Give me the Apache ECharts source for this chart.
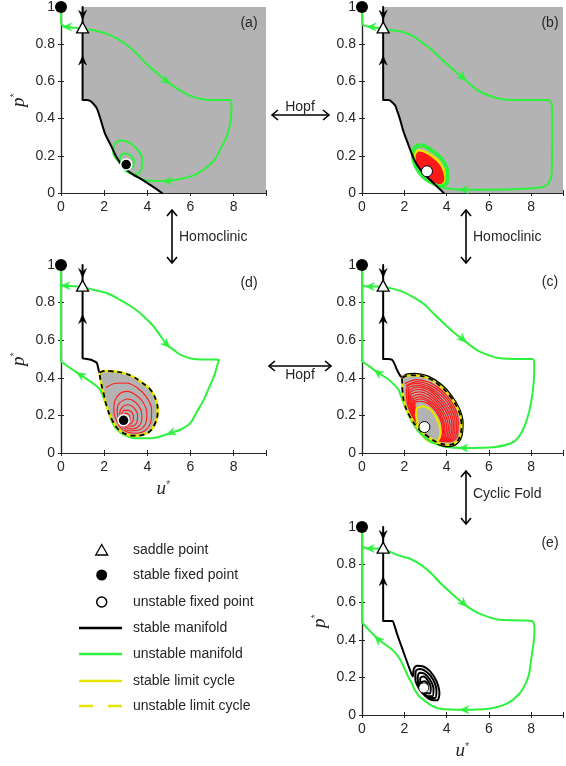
<!DOCTYPE html>
<html><head><meta charset="utf-8">
<script src="https://cdn.jsdelivr.net/npm/echarts@6/dist/echarts.min.js"></script>
<style>html,body{margin:0;padding:0;background:#fff}#c{width:566px;height:766px}</style>
</head><body><div id="c"></div>
<script>
// ---------------- DATA (u*, p*) ----------------
const xTickValues = [0, 2, 4, 6, 8];
const panelLabels = ['(a)', '(b)', '(d)', '(c)', '(e)'];
const transitionLabels = ['Hopf', 'Homoclinic', 'Homoclinic', 'Hopf', 'Cyclic Fold'];
const legendLabels = ['saddle point', 'stable fixed point', 'unstable fixed point', 'stable manifold', 'unstable manifold', 'stable limit cycle', 'unstable limit cycle'];

const stableFixedPt = [[0, 1]];
const saddlePt = [[1, 0.89]];
const blackArrows = [[1, 0.955, 0, -0.05], [1, 0.715, 0, 0.05]];

// (a)
const aStableManifold = [[1,1],[1,0.75],[1,0.5],[1.2,0.5],[1.35,0.495],[1.5,0.48],[1.66,0.455],[1.81,0.405],[2.05,0.316],[2.28,0.263],[2.59,0.19],[2.9,0.139],[3.29,0.103],[3.83,0.067],[4.29,0.032],[4.68,0]];
const aGreenLeft = [[1,0.885],[0.6,0.888],[0.2,0.895],[0.04,0.905],[0,0.93],[0,1]];
const aGreenRight = [[1,0.885],[1.5,0.875],[2.1,0.857],[2.6,0.83],[3.05,0.796],[3.5,0.75],[4.0,0.689],[4.5,0.64],[4.9,0.6],[5.4,0.56],[5.85,0.53],[6.5,0.505],[7.3,0.5],[7.85,0.5],[7.9,0.47],[7.85,0.38],[7.7,0.31],[7.4,0.24],[7.1,0.175],[6.6,0.125],[6.15,0.095],[5.5,0.075],[4.9,0.064],[4.3,0.064],[3.85,0.07],[3.4,0.095],[3.0,0.13],[2.7,0.165],[2.42,0.215],[2.48,0.262],[2.75,0.282],[3.15,0.272],[3.5,0.24],[3.75,0.19],[3.74,0.135],[3.5,0.1],[3.15,0.108],[2.82,0.14],[2.72,0.185],[2.9,0.212],[3.22,0.203],[3.38,0.17],[3.3,0.138],[3.1,0.135],[3.0,0.153]];
const aGreenArrows = [[0.26,0.893,-0.1,0],[4.9,0.6,0.45,-0.04],[4.9,0.064,-0.3,0]];
const aStableFocus = [[3.02,0.153]];

// (b)
const bStableManifold = [[1,1],[1,0.75],[1,0.5],[1.27,0.5],[1.45,0.485],[1.57,0.47],[1.65,0.445],[1.73,0.42],[1.85,0.375],[1.95,0.334],[2.18,0.263],[2.49,0.174],[2.79,0.121],[3.25,0.067],[3.55,0.035],[3.86,0]];
const bGreenLeft = [[1,0.885],[0.43,0.893],[0.1,0.9],[0.02,0.91],[0,0.94],[0,1]];
const bGreenRight = [[1,0.885],[1.4,0.875],[1.88,0.867],[2.4,0.845],[2.79,0.813],[3.3,0.77],[3.71,0.725],[4.25,0.67],[4.78,0.618],[5.15,0.58],[5.54,0.547],[6.3,0.512],[7.07,0.5],[8.0,0.5],[8.82,0.5],[8.97,0.47],[8.99,0.4],[8.99,0.316],[8.98,0.2],[8.97,0.12],[8.9,0.07],[8.7,0.04],[8.29,0.028],[7.07,0.02],[5.8,0.018],[4.78,0.018],[4.3,0.02],[4.02,0.025],[3.7,0.032],[3.3,0.05],[2.85,0.085],[2.5,0.14],[2.36,0.2],[2.47,0.248],[2.8,0.262],[3.3,0.235],[3.8,0.185],[4.08,0.115],[4.05,0.055],[3.75,0.033],[3.3,0.05],[2.88,0.09],[2.55,0.145],[2.42,0.2],[2.55,0.242],[2.85,0.25],[3.3,0.222],[3.75,0.178],[4.0,0.11],[3.97,0.06],[3.7,0.04],[3.3,0.055]];
const bStableCycle = [[2.62,0.228],[2.9,0.225],[3.3,0.2],[3.7,0.16],[3.93,0.1],[3.9,0.055],[3.6,0.04],[3.2,0.06],[2.8,0.095],[2.52,0.15],[2.48,0.2]];
const bGreenArrows = [[0.43,0.893,-0.1,0],[4.78,0.618,0.45,-0.045],[4.78,0.018,-0.3,0]];
const bUnstableFocus = [[3.07,0.117]];

// (d)
const dStableManifold = [[1,1],[1,0.75],[1,0.505],[1.2,0.5],[1.35,0.497],[1.5,0.49],[1.66,0.479],[1.74,0.443],[1.81,0.42]];
const dGreenLeft = [[1,0.885],[0.6,0.887],[0.19,0.89],[0.03,0.893],[0,0.9]];
const dGreenRight = [[1,0.885],[1.5,0.868],[2.12,0.851],[2.8,0.81],[3.36,0.771],[3.85,0.725],[4.29,0.674],[4.6,0.625],[4.91,0.576],[5.2,0.55],[5.53,0.523],[6.16,0.5],[7.0,0.497],[7.32,0.496],[7.2,0.45],[7.09,0.408],[6.85,0.345],[6.62,0.284],[6.3,0.22],[6.0,0.16],[5.55,0.125],[5.07,0.106],[4.6,0.088],[4.29,0.08],[3.8,0.078],[3.36,0.08],[2.9,0.0975],[2.6,0.125],[2.43,0.15],[2.25,0.2],[2.12,0.248],[1.95,0.3],[1.81,0.337],[1.6,0.36],[1.35,0.381],[0.88,0.417],[0.42,0.452],[0.15,0.475],[0,0.49],[0,0.75],[0,1]];
const dUnstableCycle = [[1.81,0.425],[1.95,0.435],[2.3,0.435],[2.9,0.425],[3.35,0.405],[3.67,0.381],[4.14,0.337],[4.42,0.275],[4.48,0.213],[4.37,0.16],[4.14,0.118],[3.8,0.097],[3.36,0.092],[3.05,0.098],[2.67,0.124],[2.36,0.177],[2.12,0.248],[1.97,0.319],[1.84,0.385]];
const dRedSpiral = [[2.1,0.35],[2.5,0.37],[3.0,0.372],[3.5,0.35],[3.95,0.3],[4.2,0.23],[4.15,0.16],[3.9,0.12],[3.5,0.105],[3.1,0.11],[2.8,0.13],[2.6,0.165],[2.45,0.22],[2.5,0.28],[2.75,0.318],[3.05,0.328],[3.45,0.31],[3.8,0.27],[3.98,0.21],[3.9,0.15],[3.6,0.122],[3.2,0.118],[2.9,0.135],[2.7,0.17],[2.6,0.22],[2.7,0.265],[3.1,0.287],[3.45,0.27],[3.7,0.23],[3.75,0.18],[3.6,0.142],[3.3,0.128],[3.0,0.138],[2.8,0.17],[2.72,0.21],[2.85,0.245],[3.1,0.257],[3.38,0.24],[3.55,0.2],[3.5,0.16],[3.3,0.143],[3.05,0.145],[2.85,0.17],[2.8,0.2],[2.95,0.228],[3.2,0.225],[3.36,0.195],[3.3,0.163],[3.1,0.152],[2.92,0.162],[2.86,0.19],[3.0,0.212],[3.18,0.2],[3.2,0.178],[3.05,0.165],[2.93,0.17],[2.9,0.174]];
const dGreenArrows = [[0.19,0.89,-0.1,0],[4.91,0.576,0.45,-0.05],[5.07,0.106,-0.45,-0.02],[0.88,0.417,-0.46,0.035]];
const dStableFocus = [[2.9,0.174]];

// (c)
const cStableManifold = [[1,1],[1,0.75],[1,0.5],[1.2,0.5],[1.42,0.496],[1.55,0.47],[1.65,0.443],[1.8,0.412],[1.9,0.404],[2.1,0.418],[2.5,0.422],[3.1,0.408],[3.75,0.363],[4.22,0.306],[4.6,0.233],[4.76,0.16],[4.69,0.085],[4.43,0.046],[4.02,0.036],[3.6,0.048]];
const cGreenLeft = [[1,0.885],[0.6,0.886],[0.35,0.885],[0.05,0.89],[0,0.9]];
const cGreenRight = [[1,0.885],[1.88,0.86],[2.4,0.83],[2.95,0.79],[3.4,0.74],[3.86,0.69],[4.3,0.645],[4.78,0.603],[5.15,0.57],[5.54,0.541],[6.46,0.505],[7.5,0.5],[8.06,0.5],[8.14,0.47],[8.13,0.4],[8.06,0.319],[7.9,0.22],[7.68,0.142],[7.4,0.085],[7.07,0.053],[6.3,0.032],[4.78,0.027],[3.86,0.035],[3.45,0.05],[3.1,0.071],[2.75,0.105],[2.49,0.142],[2.25,0.19],[2.03,0.248],[1.85,0.3],[1.73,0.337],[1.5,0.365],[1.27,0.39],[0.73,0.429],[0.35,0.461],[0.1,0.48],[0,0.491],[0,0.75],[0,1]];
const cUnstableCycle = [[1.91,0.399],[2.1,0.41],[2.49,0.413],[3.1,0.4],[3.71,0.355],[4.17,0.301],[4.55,0.23],[4.7,0.16],[4.63,0.089],[4.4,0.053],[4.02,0.044],[3.56,0.057],[3.1,0.089],[2.64,0.133],[2.26,0.195],[2.0,0.266],[1.91,0.337],[1.9,0.38]];
const cStableCycle = [[2.6,0.238],[2.87,0.248],[3.25,0.23],[3.56,0.177],[3.71,0.115],[3.6,0.068],[3.3,0.055],[2.97,0.078],[2.7,0.13],[2.56,0.195],[2.57,0.228]];
const cRedSpiral = [[2.05,0.37],[2.55,0.39],[3.2,0.375],[3.8,0.33],[4.3,0.26],[4.55,0.17],[4.5,0.09],[4.2,0.06],[3.8,0.06],[3.3,0.085],[2.8,0.13],[2.4,0.19],[2.15,0.26],[2.1,0.32],[2.15,0.355],[2.6,0.37],[3.2,0.35],[3.75,0.305],[4.2,0.24],[4.4,0.16],[4.33,0.09],[4.05,0.065],[3.7,0.068],[3.25,0.09],[2.8,0.135],[2.45,0.19],[2.25,0.26],[2.2,0.31],[2.25,0.335],[2.65,0.35],[3.2,0.33],[3.7,0.28],[4.08,0.22],[4.25,0.15],[4.17,0.09],[3.9,0.068],[3.6,0.07],[3.2,0.095],[2.8,0.14],[2.5,0.195],[2.33,0.26],[2.3,0.3],[2.35,0.315],[2.7,0.325],[3.2,0.305],[3.62,0.26],[3.95,0.2],[4.08,0.14],[4.0,0.09],[3.75,0.07],[3.45,0.075],[3.1,0.1],[2.78,0.145],[2.55,0.2],[2.42,0.26],[2.42,0.285],[2.45,0.29],[2.75,0.3],[3.15,0.28],[3.55,0.24],[3.83,0.18],[3.92,0.125],[3.82,0.085],[3.6,0.07],[3.35,0.078],[3.05,0.105],[2.75,0.15],[2.58,0.2],[2.5,0.25],[2.52,0.27],[2.8,0.275],[3.15,0.26],[3.5,0.22],[3.75,0.165],[3.8,0.11],[3.68,0.075],[3.45,0.066],[3.2,0.08],[2.95,0.11],[2.7,0.155],[2.57,0.2],[2.56,0.235]];
const cRedSpiralInner = [[2.1,0.36],[2.58,0.38],[3.2,0.362],[3.78,0.318],[4.25,0.25],[4.48,0.165],[4.42,0.09],[4.12,0.062],[3.75,0.064],[3.28,0.088],[2.8,0.133],[2.42,0.19],[2.2,0.26],[2.18,0.32],[2.2,0.345],[2.62,0.36],[3.2,0.34],[3.72,0.292],[4.14,0.23],[4.32,0.155],[4.25,0.09],[3.98,0.066],[3.65,0.069],[3.22,0.092],[2.8,0.138],[2.48,0.193],[2.29,0.26],[2.26,0.305],[2.3,0.325],[2.68,0.338],[3.2,0.318],[3.66,0.27],[4.02,0.21],[4.16,0.145],[4.08,0.09],[3.82,0.069],[3.52,0.072],[3.15,0.098],[2.79,0.143],[2.52,0.198],[2.38,0.26],[2.36,0.292],[2.4,0.302],[2.72,0.312],[3.18,0.292],[3.58,0.25],[3.89,0.19],[4.0,0.132],[3.91,0.087],[3.68,0.07],[3.4,0.076],[3.08,0.102],[2.77,0.148],[2.56,0.2],[2.46,0.255],[2.47,0.278],[2.5,0.28],[2.78,0.288],[3.15,0.27],[3.52,0.23],[3.79,0.172],[3.86,0.118],[3.75,0.08],[3.52,0.068],[3.28,0.079],[3.0,0.107],[2.72,0.152],[2.57,0.2],[2.54,0.24]];
const cGreenArrows = [[0.35,0.885,-0.1,0],[4.78,0.603,0.45,-0.045],[4.78,0.027,-0.3,0],[0.73,0.429,-0.46,0.036]];
const cUnstableFocus = [[2.95,0.138]];

// (e)
const eStableManifold = [[1,1],[1,0.75],[1,0.5],[1.2,0.5],[1.43,0.5],[1.55,0.47],[1.66,0.43],[1.85,0.37],[2.05,0.307],[2.28,0.236],[2.4,0.205],[2.45,0.245],[2.6,0.262],[2.9,0.258],[3.2,0.235],[3.5,0.185],[3.66,0.115],[3.55,0.078],[3.3,0.08],[3.0,0.1],[2.7,0.14],[2.52,0.19],[2.55,0.235],[2.75,0.245],[3.05,0.23],[3.35,0.19],[3.52,0.13],[3.45,0.09],[3.2,0.09],[2.95,0.11],[2.72,0.15],[2.63,0.195],[2.72,0.225],[2.95,0.22],[3.2,0.19],[3.38,0.14],[3.33,0.1],[3.12,0.1],[2.9,0.12],[2.76,0.16],[2.75,0.195],[2.9,0.205],[3.1,0.185],[3.25,0.145],[3.2,0.115],[3.0,0.12],[2.85,0.145],[2.84,0.175],[2.97,0.18],[3.1,0.16],[3.08,0.135],[2.95,0.14]];
const eGreenLeft = [[1,0.885],[0.6,0.886],[0.35,0.885],[0.05,0.893],[0,0.9]];
const eGreenRight = [[1,0.885],[1.74,0.849],[2.3,0.83],[2.82,0.796],[3.3,0.75],[3.74,0.698],[4.3,0.64],[4.82,0.591],[5.2,0.56],[5.58,0.538],[6.51,0.506],[7.74,0.503],[8.1,0.495],[8.15,0.45],[8.12,0.393],[8.0,0.3],[7.89,0.215],[7.7,0.16],[7.43,0.112],[6.82,0.059],[5.89,0.032],[4.82,0.028],[3.74,0.032],[3.3,0.05],[2.97,0.076],[2.7,0.1],[2.51,0.13],[2.35,0.17],[2.2,0.2],[2.0,0.25],[1.74,0.307],[1.5,0.34],[1.28,0.36],[0.74,0.405],[0.35,0.45],[0.1,0.48],[0,0.494],[0,0.75],[0,1]];
const eGreenArrows = [[0.35,0.885,-0.1,0],[4.82,0.591,0.45,-0.05],[4.82,0.028,-0.3,0],[0.74,0.405,-0.4,0.045]];
const eUnstableFocus = [[2.92,0.144]];

// ---------------- STYLE / LAYOUT ----------------
const GREEN = '#2cf23c', YELLOW = '#e6e600', RED = '#ff1a1a', GRAY = '#b3b3b3', INK = '#262626';
const FONT = 'Liberation Sans, Arial, sans-serif';
const XMAX = 9.5;
// grid order: a, b, d, c, e
const grids = [
  {left: 61, top: 5, width: 205, height: 188},
  {left: 362, top: 5, width: 205, height: 188},
  {left: 61, top: 265, width: 205, height: 188},
  {left: 362, top: 265, width: 205, height: 188},
  {left: 362, top: 527, width: 205, height: 188}
];
const showU = [false, false, true, false, true];
const showP = [true, false, true, false, true];

const nameRich = {
  i: {fontFamily: 'Liberation Serif, serif', fontStyle: 'italic', fontSize: 19, color: INK},
  s: {fontFamily: FONT, fontSize: 11, color: '#555', verticalAlign: 'top', lineHeight: 14}
};

const xAxes = [], yAxes = [];
grids.forEach((g, i) => {
  const tick = {show: true, inside: true, length: 3, lineStyle: {color: INK, width: 1}};
  const line = {show: true, lineStyle: {color: INK, width: 1.2}};
  xAxes.push({
    gridIndex: i, type: 'value', min: 0, max: XMAX, interval: 2, position: 'bottom',
    axisLine: line, axisTick: tick, splitLine: {show: false},
    axisLabel: {fontFamily: FONT, fontSize: 14, color: INK, margin: 7,
      formatter: v => (xTickValues.indexOf(v) >= 0 ? String(v) : '')},
    name: showU[i] ? '{i|u}{s|*}' : '', nameLocation: 'middle', nameGap: 26,
    nameTextStyle: {rich: nameRich}
  });
  xAxes.push({
    gridIndex: i, type: 'value', min: 0, max: XMAX, interval: 2, position: 'top',
    axisLine: line, axisTick: tick, splitLine: {show: false}, axisLabel: {show: false}
  });
  yAxes.push({
    gridIndex: i, type: 'value', min: 0, max: 1, interval: 0.2, position: 'left',
    axisLine: line, axisTick: tick, splitLine: {show: false},
    axisLabel: {fontFamily: FONT, fontSize: 14, color: INK, margin: 6},
    name: showP[i] ? '{i|p}{s|*}' : '', nameLocation: 'middle', nameRotate: 90, nameGap: 33,
    nameTextStyle: {rich: nameRich}
  });
  yAxes.push({
    gridIndex: i, type: 'value', min: 0, max: 1, interval: 0.2, position: 'right',
    axisLine: line, axisTick: tick, splitLine: {show: false}, axisLabel: {show: false}
  });
});

const series = [];
function line(gi, data, color, width, z, dash) {
  series.push({type: 'line', xAxisIndex: gi * 2, yAxisIndex: gi * 2, data: data, smooth: 0.3,
    symbol: 'none', showSymbol: false, clip: false, silent: true, z: z,
    lineStyle: {color: color, width: width, type: dash || 'solid', cap: 'round', join: 'round'}});
}
function closed(gi, pts, style, z, smooth) {
  series.push({type: 'custom', xAxisIndex: gi * 2, yAxisIndex: gi * 2, data: pts, encode: {x: 0, y: 1},
    clip: false, silent: true, z: z,
    renderItem: (params, api) => params.dataIndex !== 0 ? null : {
      type: 'polygon', shape: {points: pts.map(p => api.coord(p)), smooth: smooth},
      style: Object.assign({}, style)
    }});
}
function arrows(gi, arr, color) {
  series.push({type: 'custom', xAxisIndex: gi * 2, yAxisIndex: gi * 2, data: arr, encode: {x: 0, y: 1},
    clip: false, silent: true, z: 9,
    renderItem: (params, api) => {
      const a = api.coord([api.value(0), api.value(1)]);
      const b = api.coord([api.value(0) + api.value(2), api.value(1) + api.value(3)]);
      const ang = Math.atan2(b[1] - a[1], b[0] - a[0]);
      const c = Math.cos(ang), s = Math.sin(ang);
      const shape = [[4, 0], [-5, -4], [-2, 0], [-5, 4]];
      const pts = shape.map(([x, y]) => [a[0] + x * c - y * s, a[1] + x * s + y * c]);
      return {type: 'polygon', shape: {points: pts}, style: {fill: color, stroke: color, lineWidth: 0.5}};
    }});
}
function points(gi, pts, symbol, size, fill, stroke, sw) {
  series.push({type: 'scatter', xAxisIndex: gi * 2, yAxisIndex: gi * 2, data: pts, symbol: symbol,
    symbolSize: size, clip: false, silent: true, z: 12,
    itemStyle: {color: fill, borderColor: stroke, borderWidth: sw, opacity: 1}});
}
function common(gi, man, gl, gr, ga) {
  line(gi, man, '#000', 2, 6);
  line(gi, gl, GREEN, 2, 5);
  line(gi, gr, GREEN, 2, 5);
  arrows(gi, blackArrows, '#000');
  arrows(gi, ga, GREEN);
  points(gi, stableFixedPt, 'circle', 12, '#000', '#000', 0);
  points(gi, saddlePt, 'triangle', [12, 11], '#fff', '#000', 1.3);
}

// (a) grid 0
closed(0, aStableManifold.concat([[XMAX, 0], [XMAX, 1]]), {fill: GRAY}, 1, 0);
common(0, aStableManifold, aGreenLeft, aGreenRight, aGreenArrows);
points(0, aStableFocus, 'circle', 11, '#000', '#fff', 1.5);

// (b) grid 1
closed(1, bStableManifold.concat([[XMAX, 0], [XMAX, 1]]), {fill: GRAY}, 1, 0);
closed(1, bStableCycle, {fill: RED, stroke: YELLOW, lineWidth: 2.5}, 4, 0.4);
common(1, bStableManifold, bGreenLeft, bGreenRight, bGreenArrows);
points(1, bUnstableFocus, 'circle', 11, '#fff', '#000', 1);

// (d) grid 2
closed(2, dUnstableCycle, {fill: GRAY}, 1, 0.4);
line(2, dRedSpiral, RED, 1.1, 2);
closed(2, dUnstableCycle, {fill: 'none', stroke: YELLOW, lineWidth: 2.5}, 7, 0.4);
closed(2, dUnstableCycle, {fill: 'none', stroke: '#000', lineWidth: 1.8, lineDash: [5, 4]}, 8, 0.4);
common(2, dStableManifold, dGreenLeft, dGreenRight, dGreenArrows);
points(2, dStableFocus, 'circle', 11, '#000', '#fff', 1.5);

// (c) grid 3
closed(3, cUnstableCycle, {fill: GRAY}, 1, 0.4);
line(3, cRedSpiral, RED, 1.3, 2);
line(3, cRedSpiralInner, RED, 1.3, 2);
closed(3, cStableCycle, {fill: GRAY, stroke: YELLOW, lineWidth: 2.2}, 3, 0.4);
common(3, cStableManifold, cGreenLeft, cGreenRight, cGreenArrows);
closed(3, cUnstableCycle, {fill: 'none', stroke: YELLOW, lineWidth: 2.5}, 7, 0.4);
closed(3, cUnstableCycle, {fill: 'none', stroke: '#000', lineWidth: 1.8, lineDash: [5, 4]}, 8, 0.4);
points(3, cUnstableFocus, 'circle', 11, '#fff', '#000', 1);

// (e) grid 4
common(4, eStableManifold, eGreenLeft, eGreenRight, eGreenArrows);
points(4, eUnstableFocus, 'circle', 10, '#fff', '#000', 0.8);

// ---------------- GRAPHIC: labels, transitions, legend ----------------
const graphic = [];
const labelPos = [[249, 23], [550, 23], [249, 283], [550, 282], [550, 543]];
panelLabels.forEach((t, i) => graphic.push({type: 'text', x: labelPos[i][0], y: labelPos[i][1], z: 20,
  style: {text: t, font: '14px ' + FONT, fill: INK, align: 'center', verticalAlign: 'middle'}}));

function hArrow(x1, x2, y) {
  graphic.push({type: 'line', shape: {x1: x1, y1: y, x2: x2, y2: y}, style: {stroke: '#000', lineWidth: 1.6}, z: 20});
  graphic.push({type: 'polyline', shape: {points: [[x1 + 6, y - 5], [x1, y], [x1 + 6, y + 5]]}, style: {stroke: '#000', lineWidth: 1.6, fill: null}, z: 20});
  graphic.push({type: 'polyline', shape: {points: [[x2 - 6, y - 5], [x2, y], [x2 - 6, y + 5]]}, style: {stroke: '#000', lineWidth: 1.6, fill: null}, z: 20});
}
function vArrow(x, y1, y2) {
  graphic.push({type: 'line', shape: {x1: x, y1: y1, x2: x, y2: y2}, style: {stroke: '#000', lineWidth: 1.6}, z: 20});
  graphic.push({type: 'polyline', shape: {points: [[x - 5, y1 + 6], [x, y1], [x + 5, y1 + 6]]}, style: {stroke: '#000', lineWidth: 1.6, fill: null}, z: 20});
  graphic.push({type: 'polyline', shape: {points: [[x - 5, y2 - 6], [x, y2], [x + 5, y2 - 6]]}, style: {stroke: '#000', lineWidth: 1.6, fill: null}, z: 20});
}
function txt(t, x, y, align) {
  graphic.push({type: 'text', x: x, y: y, z: 20,
    style: {text: t, font: '14px ' + FONT, fill: INK, align: align, verticalAlign: 'middle'}});
}
hArrow(272, 329, 115); txt(transitionLabels[0], 300, 107, 'center');
vArrow(172, 210, 263); txt(transitionLabels[1], 179, 237, 'left');
vArrow(466, 210, 263); txt(transitionLabels[2], 473, 237, 'left');
hArrow(269, 331, 366); txt(transitionLabels[3], 300, 375, 'center');
vArrow(466, 471, 524); txt(transitionLabels[4], 473, 494, 'left');

// legend
const LX = 101.7, LL1 = 79, LL2 = 122, TX = 133;
const rows = [550, 575, 602, 628, 654, 681, 706];
graphic.push({type: 'polygon', shape: {points: [[LX, rows[0] - 5.5], [LX - 6, rows[0] + 5], [LX + 6, rows[0] + 5]]}, style: {fill: '#fff', stroke: '#000', lineWidth: 1.3}, z: 20});
graphic.push({type: 'circle', shape: {cx: LX, cy: rows[1], r: 5.5}, style: {fill: '#000'}, z: 20});
graphic.push({type: 'circle', shape: {cx: LX, cy: rows[2], r: 5}, style: {fill: '#fff', stroke: '#000', lineWidth: 1.5}, z: 20});
graphic.push({type: 'line', shape: {x1: LL1, y1: rows[3], x2: LL2, y2: rows[3]}, style: {stroke: '#000', lineWidth: 2.5}, z: 20});
graphic.push({type: 'line', shape: {x1: LL1, y1: rows[4], x2: LL2, y2: rows[4]}, style: {stroke: GREEN, lineWidth: 2.5}, z: 20});
graphic.push({type: 'line', shape: {x1: LL1, y1: rows[5], x2: LL2, y2: rows[5]}, style: {stroke: YELLOW, lineWidth: 2.5}, z: 20});
graphic.push({type: 'line', shape: {x1: LL1, y1: rows[6], x2: LL2, y2: rows[6]}, style: {stroke: YELLOW, lineWidth: 2.5, lineDash: [14, 15]}, z: 20});
legendLabels.forEach((t, i) => txt(t, TX, rows[i], 'left'));

const chart = echarts.init(document.getElementById('c'), null, {renderer: 'canvas'});
chart.setOption({
  animation: false,
  backgroundColor: '#fff',
  grid: grids,
  xAxis: xAxes,
  yAxis: yAxes,
  series: series,
  graphic: graphic
});
</script>
</body></html>
